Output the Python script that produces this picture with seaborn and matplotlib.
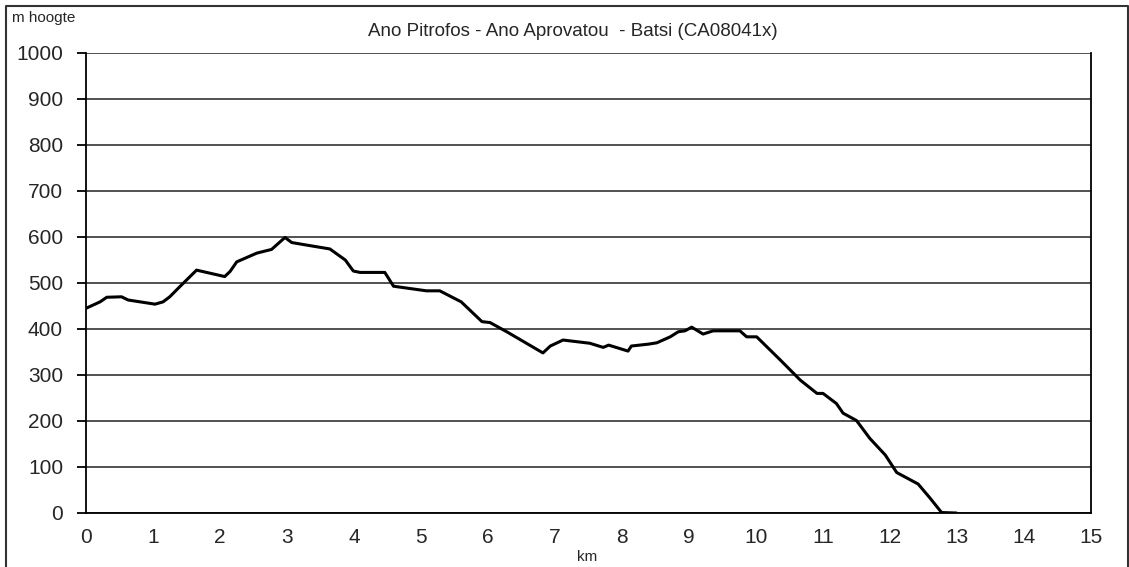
import pandas as pd
import matplotlib.pyplot as plt
import seaborn as sns
from matplotlib.ticker import MultipleLocator

# elevation profile
km = [0.0, 0.21, 0.31, 0.53, 0.63, 1.03, 1.15, 1.25, 1.40, 1.65, 2.07, 2.15, 2.25,
      2.55, 2.77, 2.97, 3.07, 3.27, 3.64, 3.87, 3.99, 4.09, 4.46, 4.59, 5.08, 5.28,
      5.60, 5.91, 6.03, 6.28, 6.82, 6.93, 7.12, 7.52, 7.72, 7.80, 8.09, 8.14, 8.39,
      8.52, 8.72, 8.84, 8.94, 9.04, 9.21, 9.36, 9.76, 9.86, 10.01, 10.36, 10.66,
      10.91, 11.0, 11.2, 11.30, 11.50, 11.70, 11.93, 12.10, 12.42, 12.60, 12.77, 12.99]
hoogte = [445, 459, 469, 470, 463, 454, 459, 470, 492, 528, 514, 525, 546,
          565, 573, 599, 588, 583, 574, 550, 526, 523, 523, 493, 483, 483,
          459, 416, 414, 394, 348, 363, 376, 369, 360, 365, 352, 363, 367,
          370, 383, 394, 396, 404, 389, 396, 396, 383, 383, 333, 289,
          260, 260, 238, 217, 201, 162, 126, 88, 63, 32, 1, 0]

df = pd.DataFrame({"km": km, "hoogte": hoogte})

sns.set_style("white")
plt.rcParams["font.family"] = ["Liberation Sans", "DejaVu Sans"]

fig = plt.figure(figsize=(11.29, 5.67), dpi=100)
ax = fig.add_axes([86 / 1129, 1 - 513 / 567, 1005 / 1129, 460 / 567])

sns.lineplot(x="km", y="hoogte", data=df, ax=ax, color="black", linewidth=2.2)

ax.set_xlim(0, 15)
ax.set_ylim(0, 1000)
ax.xaxis.set_major_locator(MultipleLocator(1))
ax.xaxis.set_minor_locator(MultipleLocator(0.5))
ax.yaxis.set_major_locator(MultipleLocator(100))
ax.grid(axis="y", color="#333333", linewidth=1.2)
ax.set_axisbelow(True)

for side in ["left", "bottom", "right"]:
    ax.spines[side].set_color("black")
    ax.spines[side].set_linewidth(1.3)
ax.spines["top"].set_visible(False)

ax.tick_params(axis="x", which="major", direction="inout", length=8, width=1.3,
               labelsize=15, pad=7, color="black")
ax.tick_params(axis="x", which="minor", direction="inout", length=5, width=1.3, color="black")
ax.tick_params(axis="y", which="major", direction="out", length=6.5, width=1.3,
               labelsize=15, pad=10, color="black", left=True)

ax.set_xlabel("")
ax.set_ylabel("")
fig.text(573 / 1129, 1 - 31 / 567, "Ano Pitrofos - Ano Aprovatou  - Batsi (CA08041x)",
         ha="center", va="center", fontsize=13.5)
fig.text(12 / 1129, 1 - 18 / 567, "m hoogte", ha="left", va="center", fontsize=11)
fig.text(587 / 1129, 1 - 557 / 567, "km", ha="center", va="center", fontsize=11)

# outer frame of the chart area
fig.add_artist(plt.Line2D([6 / 1129, 6 / 1129, 1128 / 1129, 1128 / 1129],
                          [0, 1 - 6 / 567, 1 - 6 / 567, 0],
                          transform=fig.transFigure, color="#333333", linewidth=1.5))

fig.savefig("out.png", dpi=100)
